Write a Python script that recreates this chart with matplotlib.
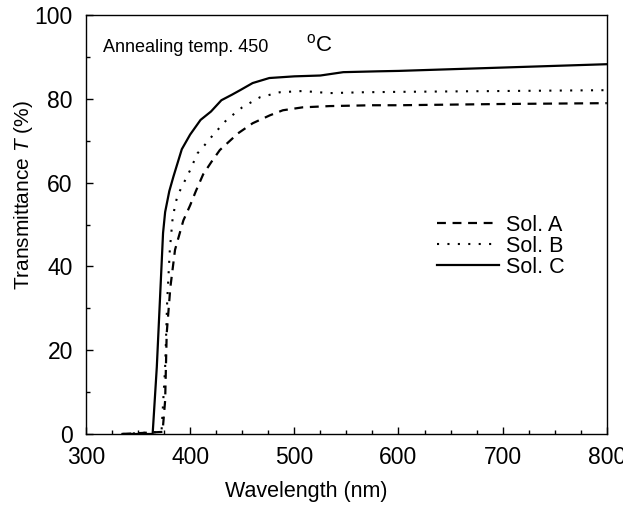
import matplotlib
matplotlib.use("Agg")
import matplotlib.pyplot as plt
from matplotlib.ticker import MultipleLocator

plt.rcParams["font.family"] = ["Liberation Sans", "DejaVu Sans"]
plt.rcParams["mathtext.fontset"] = "custom"
plt.rcParams["mathtext.rm"] = "Liberation Sans"
plt.rcParams["mathtext.it"] = "Liberation Sans:italic"

# Sol. A (dashed)
wl_a = [335, 373.5, 376, 377.5, 381, 385.5, 389.5, 393.5, 400, 405.5, 412.5,
        420.5, 428.5, 446, 460, 476.6, 489, 508, 534, 575, 600, 700, 800]
t_a = [0, 0.5, 8, 24, 35, 44, 47.5, 51, 54.6, 58, 62,
       65, 67.8, 71.8, 74.2, 76.1, 77.3, 78, 78.3, 78.5, 78.5, 78.8, 79]

# Sol. B (dotted)
wl_b = [335, 372.5, 376, 378, 380.5, 383, 385.5, 388, 393, 400, 407, 414,
        422, 435, 450, 467, 486, 508, 534, 566, 600, 700, 800]
t_b = [0, 0.5, 16, 32, 44, 51, 54.6, 57, 59.5, 63, 67, 69,
       71.4, 75, 78, 80.4, 81.6, 81.9, 81.4, 81.6, 81.7, 81.9, 82.1]

# Sol. C (solid)
wl_c = [335, 364, 368, 371, 374, 376, 380, 384, 392, 400, 410, 420, 430, 440,
        448, 460, 476, 500, 525, 547, 580, 600, 650, 700, 750, 800]
t_c = [0, 0, 16, 32, 48, 53, 58, 61.5, 68, 71.5, 75, 77, 79.7, 81,
       82.1, 83.8, 85, 85.4, 85.6, 86.4, 86.6, 86.7, 87.1, 87.5, 87.9, 88.3]

fig = plt.figure(figsize=(6.23, 5.07), dpi=100)
ax = fig.add_axes([0.138, 0.144, 0.836, 0.826])

ax.plot(wl_a, t_a, color="black", lw=1.6, linestyle=(0, (4, 3)), label="Sol. A")
ax.plot(wl_b, t_b, color="black", lw=1.5, linestyle=(0, (1, 4)), label="Sol. B")
ax.plot(wl_c, t_c, color="black", lw=1.6, linestyle="-", label="Sol. C")

ax.set_xlim(300, 800)
ax.set_ylim(0, 100)
ax.xaxis.set_major_locator(MultipleLocator(100))
ax.xaxis.set_minor_locator(MultipleLocator(25))
ax.yaxis.set_major_locator(MultipleLocator(20))
ax.yaxis.set_minor_locator(MultipleLocator(10))
ax.tick_params(which="both", direction="in", top=False, right=False, labelsize=16.5)
ax.tick_params(which="major", length=5, width=1)
ax.tick_params(which="minor", length=3, width=1)
ax.tick_params(axis="x", which="major", pad=9)
ax.tick_params(axis="y", which="major", pad=9.5)
for s in ax.spines.values():
    s.set_linewidth(1)

ax.set_xlabel("Wavelength (nm)", fontsize=15.5)
ax.xaxis.set_label_coords(0.422, -0.112)
ax.set_ylabel("Transmittance $T$ (%)", fontsize=15)
ax.yaxis.set_label_coords(-0.098, 0.57)

ax.text(316, 91.3, "Annealing temp. 450", fontsize=13, va="baseline")
ax.text(511, 91.3, "$^{\\mathrm{o}}$C", fontsize=16, va="baseline")

ax.legend(loc="center left", bbox_to_anchor=(0.674, 0.448), frameon=False,
          fontsize=15.5, handlelength=2.9, handletextpad=0.3, labelspacing=0.0,
          borderpad=0, borderaxespad=0)

fig.savefig("out.png", dpi=100)
